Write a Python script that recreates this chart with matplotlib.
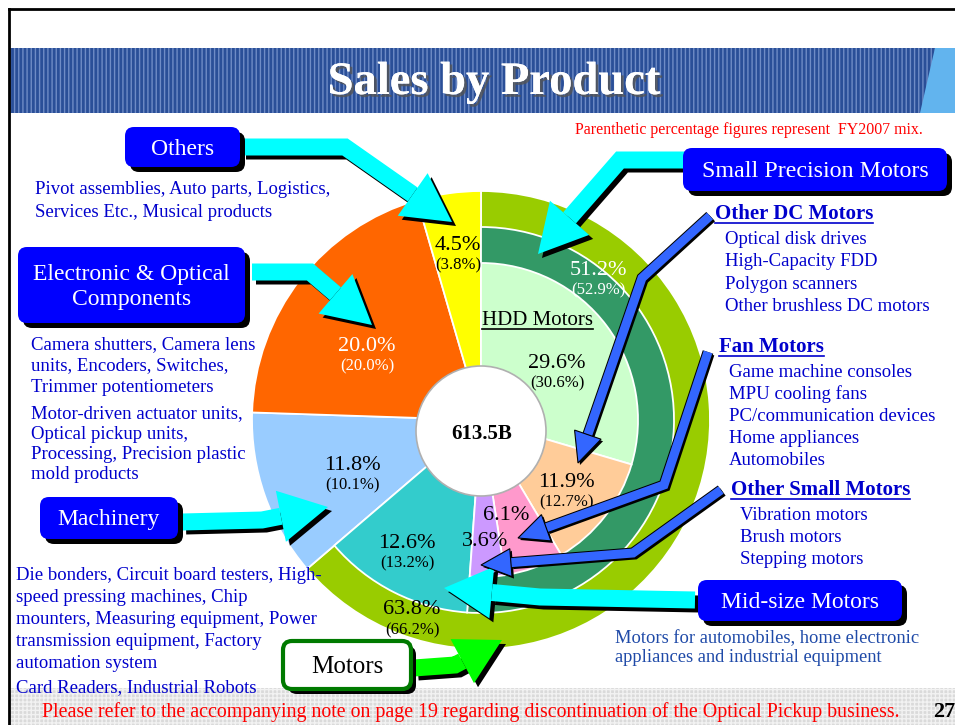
import numpy as np
import matplotlib
matplotlib.use('Agg')
import matplotlib.pyplot as plt
from matplotlib.patches import FancyBboxPatch, Rectangle, Polygon, Circle
import matplotlib.patheffects as pe

plt.rcParams['font.family'] = ['Liberation Serif', 'DejaVu Serif']

# outer pie: Motors / Machinery / Electronic & Optical / Others (FY2008 share, %)
outer_names = ['Motors', 'Machinery', 'Electronic & Optical Components', 'Others']
outer_vals = [63.8, 11.8, 20.0, 4.5]
outer_prev = [66.2, 10.1, 20.0, 3.8]
outer_cols = ['#99CC00', '#99CCFF', '#FF6600', '#FFFF00']

# motors split: Small Precision Motors / Mid-size Motors
motor_names = ['Small Precision Motors', 'Mid-size Motors']
motor_vals = [51.2, 12.6]
motor_prev = [52.9, 13.2]
motor_cols = ['#339966', '#33CCCC']

# small precision split
small_names = ['HDD Motors', 'Other DC Motors', 'Fan Motors', 'Other Small Motors']
small_vals = [29.6, 11.9, 6.1, 3.6]
small_prev = [30.6, 12.7, None, None]
small_cols = ['#CCFFCC', '#FFCC99', '#FF99CC', '#CC99FF']

total_label = '613.5B'

W, H = 955, 725
fig = plt.figure(figsize=(W / 100, H / 100), dpi=100)

# background axes in pixel coords
bg = fig.add_axes([0, 0, 1, 1])
bg.set_xlim(0, W)
bg.set_ylim(H, 0)
bg.axis('off')

# frame lines
bg.plot([9, W], [9, 9], color='black', lw=2)
bg.plot([9, 9], [9, H], color='black', lw=2)

# header band
bg.add_patch(Rectangle((10, 48), 925, 65, facecolor='#2A4F98', edgecolor='#6F8CC6',
                       hatch='||||', lw=0))
bg.add_patch(Polygon([(935, 48), (W, 48), (W, 113), (920, 113)], closed=True,
                     facecolor='#62B4EE', edgecolor='none'))
bg.text(494, 83, 'Sales by Product', color='white', fontsize=33.5, fontweight='bold',
        ha='center', va='center',
        path_effects=[pe.withSimplePatchShadow(offset=(2, -2), shadow_rgbFace='#555555', alpha=0.8),
                      pe.Normal()])

# footer band
bg.add_patch(Rectangle((10, 688), W - 10, 37, facecolor='#DADADA', edgecolor='#F2F2F2',
                       hatch='++++', lw=0))
bg.text(471, 712, 'Please refer to the accompanying note on page 19 regarding discontinuation of the Optical Pickup business.',
        color='#FF0000', fontsize=14.3, ha='center', va='center')
bg.text(933, 712, '27', color='black', fontsize=16, fontweight='bold', ha='left', va='center')

# pie axes: centre (481, 420) px, box half-size 240 px
cx, cy, half = 481, 420, 240
pie_ax = fig.add_axes([(cx - half) / W, (H - cy - half) / H, 2 * half / W, 2 * half / H])
wp = dict(edgecolor='white', linewidth=1.3)
pie_ax.pie(outer_vals, colors=outer_cols, radius=229, startangle=90, counterclock=False,
           wedgeprops=wp)
rest = sum(outer_vals) - sum(motor_vals)
w2, _ = pie_ax.pie(motor_vals + [rest], colors=motor_cols + ['none'], radius=193,
                   startangle=90, counterclock=False, wedgeprops=wp)
w2[-1].set_visible(False)
rest2 = sum(outer_vals) - sum(small_vals)
w3, _ = pie_ax.pie(small_vals + [rest2], colors=small_cols + ['none'], radius=157,
                   startangle=90, counterclock=False, wedgeprops=wp)
w3[-1].set_visible(False)
pie_ax.add_patch(Circle((0, -11), 65, facecolor='white', edgecolor='#B0B0B0', lw=1.2, zorder=5))
pie_ax.set_xlim(-half, half)
pie_ax.set_ylim(-half, half)
pie_ax.set_aspect('equal')
pie_ax.axis('off')

# overlay axes for labels and arrows
ov = fig.add_axes([0, 0, 1, 1])
ov.set_xlim(0, W)
ov.set_ylim(H, 0)
ov.axis('off')
ov.patch.set_alpha(0)


def pct(x, y, main, prev=None, color='black', size=16):
    ov.text(x, y, f'{main:.1f}%', color=color, fontsize=size, ha='center', va='center')
    if prev is not None:
        ov.text(x, y + 20, f'({prev:.1f}%)', color=color, fontsize=12, ha='center', va='center')


pct(458, 245, outer_vals[3], outer_prev[3])
pct(367, 346, outer_vals[2], outer_prev[2], color='white')
pct(352, 465, outer_vals[1], outer_prev[1])
pct(412, 610, outer_vals[0], outer_prev[0])
pct(598, 270, motor_vals[0], motor_prev[0], color='white')
pct(407, 543, motor_vals[1], motor_prev[1])
pct(557, 363, small_vals[0], small_prev[0])
pct(566, 482, small_vals[1], small_prev[1])
pct(506, 515, small_vals[2])
pct(485, 542, small_vals[3])
ov.text(482, 434, total_label, fontsize=15, fontweight='bold', ha='center', va='center', zorder=6)

underlines = []
underlines.append(ov.text(482, 320, 'HDD Motors', fontsize=15, ha='left', va='center'))


def fat_arrow(pts, color, lw_px, head_w, head_l, shadow=(4, 4), scol='black', ecol=None):
    pts = np.array(pts, dtype=float)
    tip = pts[-1]
    d = tip - pts[-2]
    d = d / np.hypot(*d)
    n = np.array([-d[1], d[0]])
    base = tip - d * head_l
    shaft = np.vstack([pts[:-1], base])
    head = np.array([base + n * head_w / 2, tip, base - n * head_w / 2])
    for off, c, z in [(np.array(shadow), scol, 3), (np.zeros(2), color, 4)]:
        if ecol is not None and c == color:
            ov.plot(shaft[:, 0] + off[0], shaft[:, 1] + off[1], color=ecol,
                    lw=(lw_px + 2) * 0.72, solid_joinstyle='miter', solid_capstyle='butt', zorder=z)
        ov.plot(shaft[:, 0] + off[0], shaft[:, 1] + off[1], color=c, lw=lw_px * 0.72,
                solid_joinstyle='miter', solid_capstyle='butt', zorder=z)
        ov.add_patch(Polygon(head + off, closed=True, facecolor=c,
                             edgecolor=ecol if (ecol and c == color) else 'none', lw=0.8, zorder=z))


cyan = '#00FFFF'
fat_arrow([(242, 147), (345, 147), (452, 222)], cyan, 17, 52, 48)
fat_arrow([(252, 272), (310, 272), (372, 325)], cyan, 17, 52, 48)
fat_arrow([(182, 522), (262, 520), (328, 507)], cyan, 17, 52, 48)
fat_arrow([(684, 160), (620, 160), (538, 254)], cyan, 17, 52, 48)
fat_arrow([(695, 600), (540, 597), (444, 588)], cyan, 17, 52, 48)
fat_arrow([(414, 668), (455, 665), (502, 640)], '#00FF00', 17, 50, 45)

blue = '#3366FF'
fat_arrow([(710, 216), (642, 278), (578, 463)], blue, 9, 28, 30, shadow=(2, 2), ecol='black')
fat_arrow([(708, 352), (664, 485), (518, 538)], blue, 9, 28, 30, shadow=(2, 2), ecol='black')
fat_arrow([(721, 490), (633, 553), (481, 565)], blue, 9, 28, 30, shadow=(2, 2), ecol='black')


def box(x0, y0, x1, y1, text, face='#0000FF', tcol='white', edge='none', elw=0, size=17):
    ov.add_patch(FancyBboxPatch((x0 + 5, y0 + 5), x1 - x0, y1 - y0,
                                boxstyle='round,pad=0,rounding_size=9',
                                facecolor='black', edgecolor='none', zorder=7))
    ov.add_patch(FancyBboxPatch((x0, y0), x1 - x0, y1 - y0,
                                boxstyle='round,pad=0,rounding_size=9',
                                facecolor=face, edgecolor=edge, lw=elw, zorder=8))
    ov.text((x0 + x1) / 2, (y0 + y1) / 2 + 2, text, color=tcol, fontsize=size,
            ha='center', va='center', linespacing=1.25, zorder=9)


box(125, 127, 240, 167, 'Others')
box(18, 247, 245, 323, 'Electronic & Optical\nComponents')
box(40, 497, 178, 539, 'Machinery')
box(683, 148, 947, 191, 'Small Precision Motors', size=17.3)
box(698, 580, 902, 621, 'Mid-size Motors')
box(283, 641, 411, 689, 'Motors', face='white', tcol='black', edge='#007A00', elw=3, size=18)

dblue = '#0000CC'


def lines(x, y0, step, items, color=dblue, size=13.5):
    for i, t in enumerate(items):
        ov.text(x, y0 + i * step, t, color=color, fontsize=size, ha='left', va='center')


lines(35, 189, 23, ['Pivot assemblies, Auto parts, Logistics,', 'Services Etc., Musical products'])
lines(31, 345, 21, ['Camera shutters, Camera lens', 'units, Encoders, Switches,',
                    'Trimmer potentiometers'])
lines(31, 414, 20, ['Motor-driven actuator units,', 'Optical pickup units,',
                    'Processing, Precision plastic', 'mold products'])
lines(16, 576, 22, ['Die bonders, Circuit board testers, High-', 'speed pressing machines, Chip',
                    'mounters, Measuring equipment, Power', 'transmission equipment, Factory',
                    'automation system'])
lines(16, 688, 22, ['Card Readers, Industrial Robots'])

for x, y, title in [(715, 214, small_names[1]), (719, 347, small_names[2]), (731, 490, small_names[3])]:
    underlines.append(ov.text(x, y, title, color=dblue, fontsize=15, fontweight='bold',
                              ha='left', va='center'))
lines(725, 239, 22.5, ['Optical disk drives', 'High-Capacity FDD', 'Polygon scanners',
                       'Other brushless DC motors'])
lines(729, 372, 22.2, ['Game machine consoles', 'MPU cooling fans', 'PC/communication devices',
                       'Home appliances', 'Automobiles'])
lines(740, 515, 22.5, ['Vibration motors', 'Brush motors', 'Stepping motors'])
lines(615, 639, 18, ['Motors for automobiles, home electronic',
                     'appliances and industrial equipment'], color='#1F4AA8', size=13.3)

ov.text(575, 130, 'Parenthetic percentage figures represent  FY2007 mix.', color='#FF0000',
        fontsize=11.4, ha='left', va='center')

# underline headings
fig.canvas.draw()
r = fig.canvas.get_renderer()
inv = ov.transData.inverted()
for t in underlines:
    bb = t.get_window_extent(r)
    (xa, ya), (xb, yb) = inv.transform([(bb.x0, bb.y0), (bb.x1, bb.y1)])
    ov.plot([xa, xb], [ya - 1, ya - 1], color=t.get_color(), lw=1.2)

fig.savefig('out.png', dpi=100)
